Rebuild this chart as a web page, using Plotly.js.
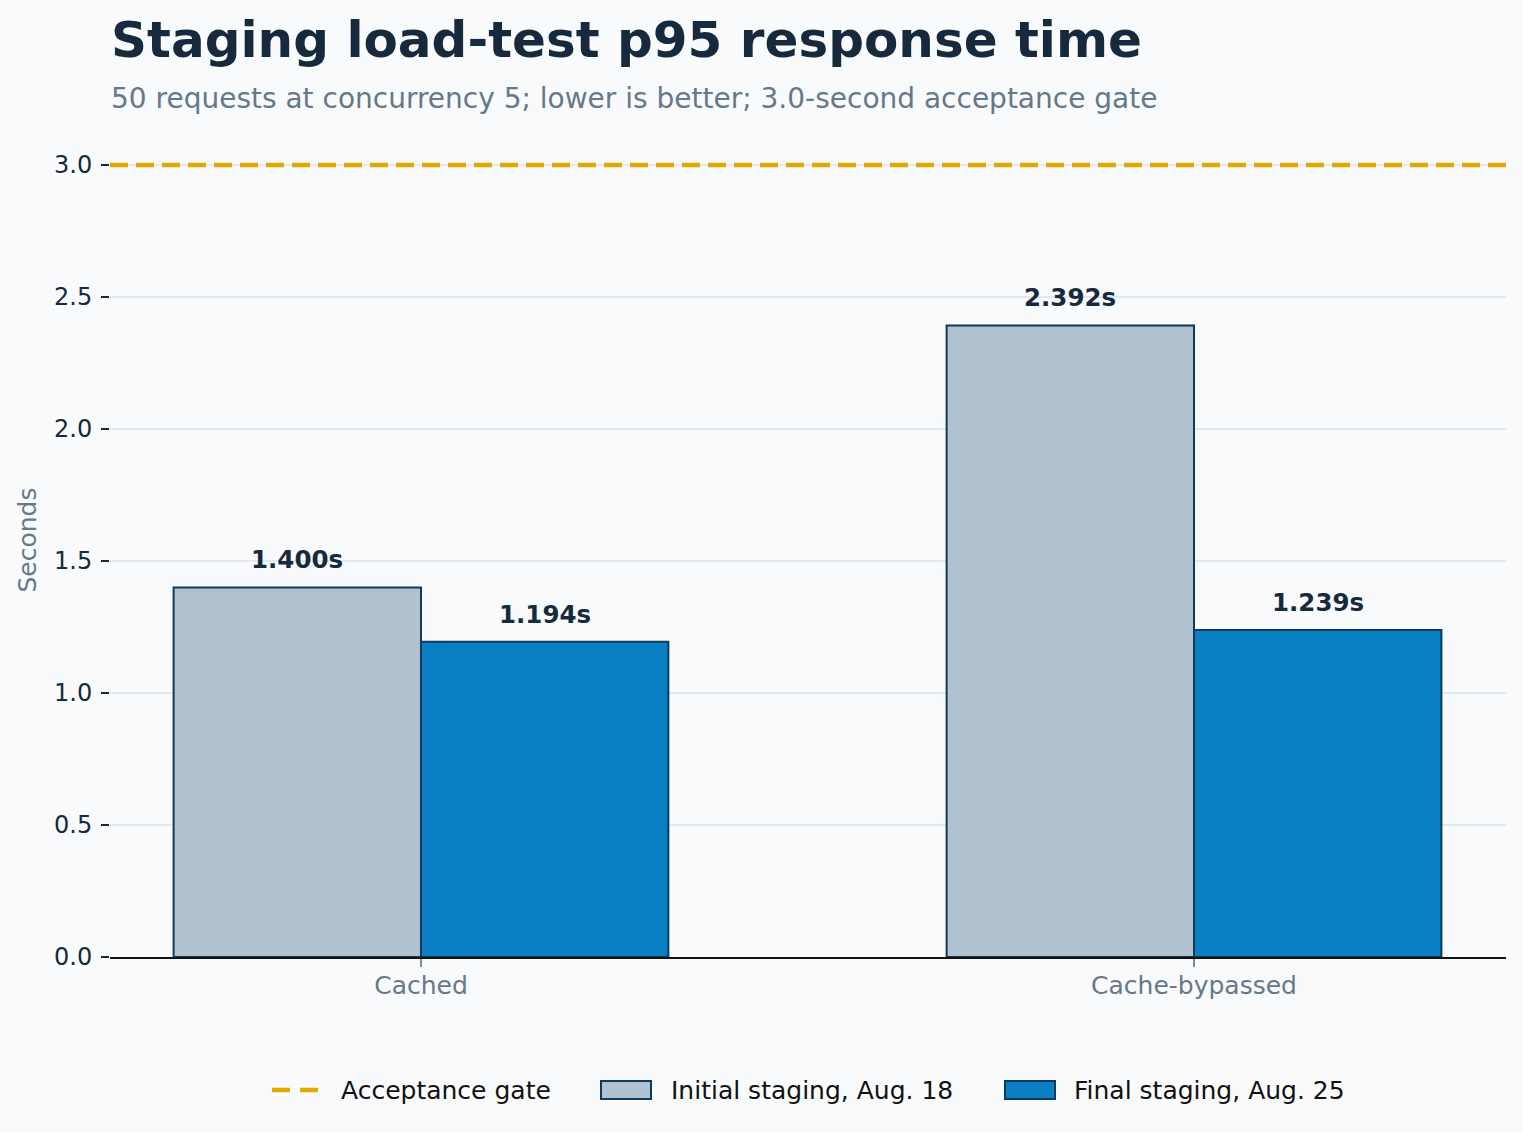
<!DOCTYPE html>
<html>
<head>
<meta charset="utf-8">
<script src="https://cdn.plot.ly/plotly-3.0.1.min.js"></script>
<style>
  html, body { margin: 0; padding: 0; background: #f8fafc; }
  #chart { width: 1523px; height: 1132px; }
</style>
</head>
<body>
<div id="chart"></div>
<script>
// data
const categories = ['Cached', 'Cache-bypassed'];
const initialValues = [1.400, 2.392];
const finalValues = [1.194, 1.239];
const seriesNames = ['Initial staging, Aug. 18', 'Final staging, Aug. 25'];
const gateValue = 3.0;
const gateName = 'Acceptance gate';
const yTickValues = [0, 0.5, 1.0, 1.5, 2.0, 2.5, 3.0];

// colours
const bg = '#f8fafc';
const ink = '#172a3d';
const muted = '#66788b';
const initialColor = '#b0c2cf';
const finalColor = '#0b7fc4';
const edgeColor = '#0f3a5c';
const gateColor = '#e0aa00';

// plot box in pixels (used only to place the hand-made legend)
const W = 1523, H = 1132;
const M = { l: 110, r: 17, t: 123, b: 175 };
const plotW = W - M.l - M.r;
const plotH = H - M.t - M.b;
const px = (x) => (x - M.l) / plotW;
const py = (y) => (H - M.b - y) / plotH;

const FONT = 'DejaVu Sans, sans-serif';
const barWidth = 0.32;

const data = [
    {
        type: 'bar',
        name: seriesNames[0],
        x: categories,
        y: initialValues,
        marker: { color: initialColor, line: { color: edgeColor, width: 2 } },
        showlegend: false,
        hoverinfo: 'skip',
    },
    {
        type: 'bar',
        name: seriesNames[1],
        x: categories,
        y: finalValues,
        marker: { color: finalColor, line: { color: edgeColor, width: 2 } },
        showlegend: false,
        hoverinfo: 'skip',
    },
];

// value labels above each bar
const annotations = [];
[initialValues, finalValues].forEach((vals, s) => {
    vals.forEach((v, i) => {
        annotations.push({
            x: i + (s === 0 ? -barWidth / 2 : barWidth / 2),
            y: v,
            xref: 'x',
            yref: 'y',
            text: '<b>' + v.toFixed(3) + 's</b>',
            showarrow: false,
            yanchor: 'bottom',
            yshift: 11,
            font: { family: FONT, size: 24.5, color: ink },
        });
    });
});

// subtitle
annotations.push({
    xref: 'paper', yref: 'paper',
    x: px(109), y: py(99),
    xanchor: 'left', yanchor: 'middle',
    text: '50 requests at concurrency 5; lower is better; 3.0-second acceptance gate',
    showarrow: false,
    font: { family: FONT, size: 28, color: muted },
});

// legend texts
const legendItems = [
    { text: gateName, x: 339 },
    { text: seriesNames[0], x: 669 },
    { text: seriesNames[1], x: 1072 },
];
legendItems.forEach((it) => {
    annotations.push({
        xref: 'paper', yref: 'paper',
        x: px(it.x), y: py(1090),
        xanchor: 'left', yanchor: 'middle',
        text: it.text,
        showarrow: false,
        font: { family: FONT, size: 25, color: '#111111' },
    });
});

const shapes = [
    // acceptance gate
    {
        type: 'line', xref: 'paper', yref: 'y',
        x0: 0, x1: 1, y0: gateValue, y1: gateValue,
        line: { color: gateColor, width: 4.5, dash: '18px,8px' },
    },
    // legend symbols
    {
        type: 'line', xref: 'paper', yref: 'paper',
        x0: px(272), x1: px(318), y0: py(1090), y1: py(1090),
        line: { color: gateColor, width: 4.5, dash: '18px,10px' },
    },
    {
        type: 'rect', xref: 'paper', yref: 'paper',
        x0: px(601), x1: px(651), y0: py(1081), y1: py(1099),
        fillcolor: initialColor, line: { color: edgeColor, width: 2 },
    },
    {
        type: 'rect', xref: 'paper', yref: 'paper',
        x0: px(1005), x1: px(1055), y0: py(1081), y1: py(1099),
        fillcolor: finalColor, line: { color: edgeColor, width: 2 },
    },
];

const layout = {
    width: W,
    height: H,
    margin: M,
    paper_bgcolor: bg,
    plot_bgcolor: bg,
    font: { family: FONT, color: ink },
    barmode: 'group',
    bargap: 1 - 2 * barWidth,
    bargroupgap: 0,
    showlegend: false,
    title: {
        text: '<b>Staging load-test p95 response time</b>',
        x: 111 / W,
        xref: 'container',
        xanchor: 'left',
        y: 1 - 39.5 / H,
        yref: 'container',
        yanchor: 'middle',
        font: { family: FONT, size: 50, color: ink },
    },
    xaxis: {
        type: 'category',
        range: [-0.4023, 1.4036],
        showline: true,
        linecolor: '#111111',
        linewidth: 2,
        showgrid: false,
        zeroline: false,
        ticks: 'outside',
        ticklen: 8,
        tickwidth: 1.5,
        tickcolor: '#7f8c99',
        ticklabelstandoff: -3,
        tickfont: { family: FONT, size: 25, color: muted },
        automargin: false,
    },
    yaxis: {
        range: [0, 3.159],
        tickvals: yTickValues,
        tickformat: '.1f',
        ticks: 'outside',
        ticklen: 8,
        tickwidth: 1.5,
        tickcolor: ink,
        ticklabelstandoff: 4,
        tickfont: { family: FONT, size: 24, color: ink },
        showgrid: true,
        gridcolor: '#e2e8f0',
        gridwidth: 2,
        zeroline: false,
        showline: false,
        automargin: false,
        title: {
            text: 'Seconds',
            standoff: 10,
            font: { family: FONT, size: 25, color: muted },
        },
    },
    annotations,
    shapes,
};

Plotly.newPlot('chart', data, layout, { staticPlot: true, displayModeBar: false });
</script>
</body>
</html>
